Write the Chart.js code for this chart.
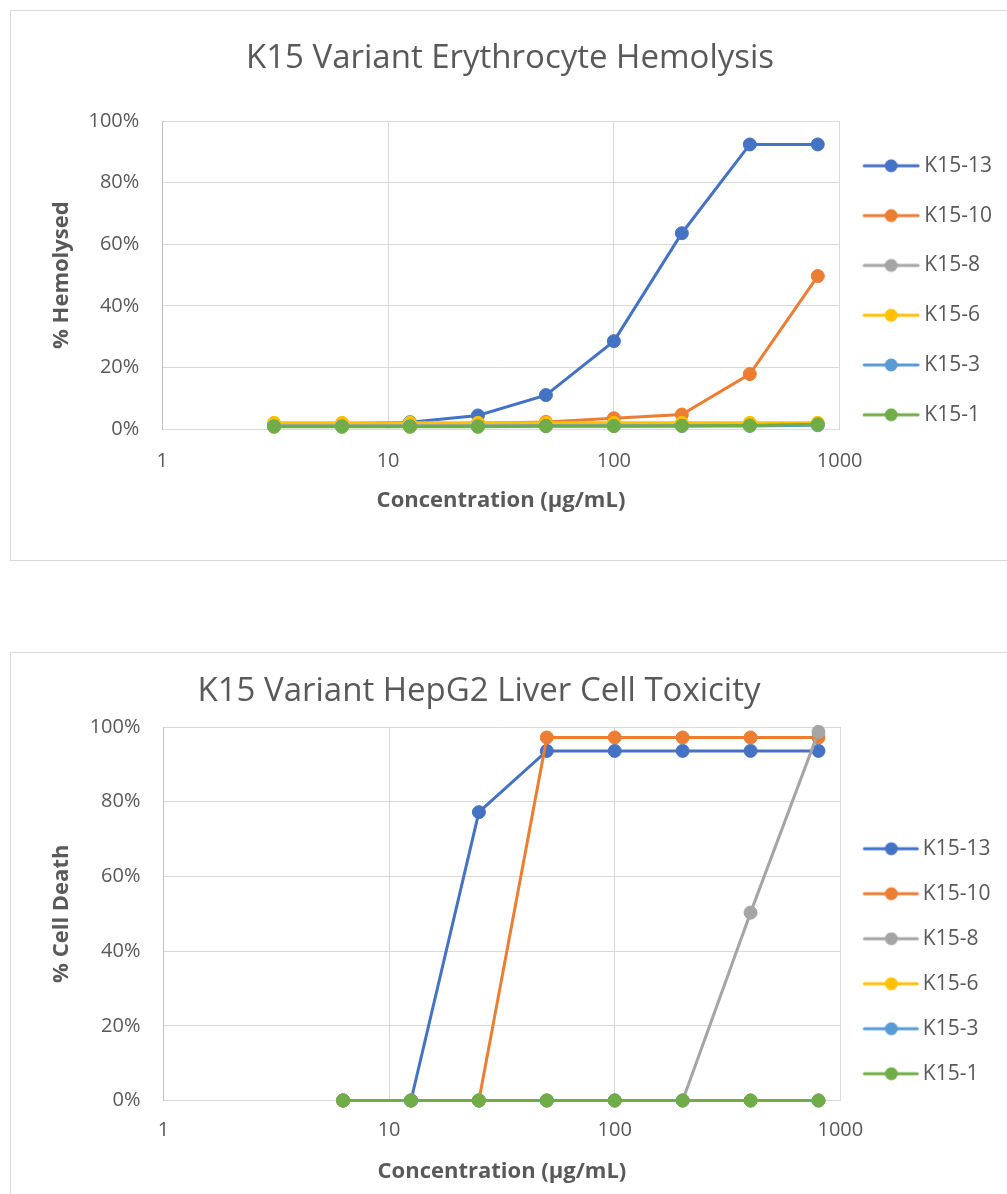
<!DOCTYPE html>
<html>
<head>
<meta charset="utf-8">
<script src="https://cdn.jsdelivr.net/npm/chart.js@4.4.1/dist/chart.umd.min.js"></script>
<style>
  body { margin: 0; background: #fff; overflow: hidden; width: 1007px; height: 1194px; position: relative; }
  .box { position: absolute; left: 10px; width: 1000px; border: 1px solid #d9d9d9; background: #fff; }
  .box canvas { position: absolute; left: 0; top: 0; }
  .title { position: absolute; font-family: 'Open Sans', sans-serif; font-size: 33px; line-height: 33px;
           color: #595959; white-space: nowrap; transform: translateX(-50%); }
</style>
</head>
<body>
<div class="box" id="box1" style="top:10px;height:549px;"><canvas id="hemo-chart" width="996" height="549"></canvas></div>
<div class="box" id="box2" style="top:652px;height:560px;"><canvas id="hepg2-chart" width="996" height="541"></canvas></div>
<div class="title" style="left:510px;top:39px;">K15 Variant Erythrocyte Hemolysis</div>
<div class="title" style="left:479px;top:672px;">K15 Variant HepG2 Liver Cell Toxicity</div>

<script>
// Series names (legend order)
const SERIES = ['K15-13', 'K15-10', 'K15-8', 'K15-6', 'K15-3', 'K15-1'];

// Concentrations (µg/mL)
const hemoConc = [3.125, 6.25, 12.5, 25, 50, 100, 200, 400, 800];
const hepConc = [6.25, 12.5, 25, 50, 100, 200, 400, 800];

// % hemolysed
const hemoK15_13 = [1.5, 1.8, 2.3, 4.5, 11.1, 28.6, 63.6, 92.4, 92.4];
const hemoK15_10 = [1.5, 1.5, 1.7, 2.0, 2.4, 3.6, 4.8, 17.9, 49.7];
const hemoK15_8 = [1.4, 1.4, 1.4, 1.4, 1.5, 1.5, 1.5, 1.5, 1.6];
const hemoK15_6 = [2.1, 2.1, 2.1, 2.1, 2.1, 2.1, 2.1, 2.1, 2.1];
const hemoK15_3 = [1.0, 1.0, 1.0, 1.0, 1.1, 1.1, 1.1, 1.1, 1.3];
const hemoK15_1 = [0.8, 0.8, 0.8, 0.8, 1.0, 1.0, 1.1, 1.2, 1.6];

// % cell death
const cellK15_13 = [0, 0, 77.2, 93.6, 93.6, 93.6, 93.6, 93.6];
const cellK15_10 = [0, 0, 0, 97.2, 97.2, 97.2, 97.2, 97.2];
const cellK15_8 = [0, 0, 0, 0, 0, 0, 50.3, 98.7];
const cellK15_6 = [0, 0, 0, 0, 0, 0, 0, 0];
const cellK15_3 = [0, 0, 0, 0, 0, 0, 0, 0];
const cellK15_1 = [0, 0, 0, 0, 0, 0, 0, 0];

// Axis ticks
const xTicks = [1, 10, 100, 1000];
const yTicks = [0, 20, 40, 60, 80, 100];

const COLORS = ['#4472C4', '#ED7D31', '#A5A5A5', '#FFC000', '#5B9BD5', '#70AD47'];
const FONT = "'Open Sans', sans-serif";
const TEXT = '#595959';
const GRID = '#d9d9d9';

// Legend marker: line with a dot, drawn on a small canvas
function makeMarker(color, lineFrom, lineTo, dotX) {
    const c = document.createElement('canvas');
    c.width = 70;
    c.height = 16;
    const ctx = c.getContext('2d');
    const mid = 35;
    ctx.strokeStyle = color;
    ctx.lineWidth = 3;
    ctx.lineCap = 'round';
    ctx.beginPath();
    ctx.moveTo(mid + lineFrom, 8);
    ctx.lineTo(mid + lineTo, 8);
    ctx.stroke();
    ctx.fillStyle = color;
    ctx.beginPath();
    ctx.arc(mid + dotX, 8, 6.5, 0, Math.PI * 2);
    ctx.fill();
    return c;
}

function buildDatasets(conc, seriesValues) {
    return seriesValues.map((vals, i) => ({
        label: SERIES[i],
        data: conc.map((c, j) => ({ x: c, y: vals[j] })),
        borderColor: COLORS[i],
        backgroundColor: COLORS[i],
        pointBackgroundColor: COLORS[i],
        pointBorderColor: COLORS[i],
        borderWidth: 3,
        pointRadius: 6.5,
        pointBorderWidth: 1,
        tension: 0,
        clip: false,
        order: SERIES.length - i   // last series drawn on top, like Excel
    }));
}

function makeChart(canvasId, conc, seriesValues, opts) {
    const markers = COLORS.map(c => makeMarker(c, opts.marker[0], opts.marker[1], opts.marker[2]));
    const ctx = document.getElementById(canvasId).getContext('2d');
    return new Chart(ctx, {
        type: 'line',
        data: { datasets: buildDatasets(conc, seriesValues) },
        options: {
            responsive: false,
            animation: false,
            devicePixelRatio: 1,
            layout: { padding: { left: 30, top: opts.top, right: opts.right, bottom: opts.bottom } },
            plugins: {
                tooltip: { enabled: false },
                legend: {
                    display: true,
                    position: 'right',
                    align: 'start',
                    fullSize: true,
                    title: { display: true, text: ' ', font: { size: 1 }, padding: { top: opts.legendOffset, bottom: 0 } },
                    labels: {
                        usePointStyle: true,
                        pointStyleWidth: opts.boxWidth,
                        padding: opts.legendPad,
                        color: TEXT,
                        font: { family: FONT, size: 21 },
                        sort: (a, b) => a.datasetIndex - b.datasetIndex,
                        generateLabels: (chart) => {
                            const items = Chart.defaults.plugins.legend.labels.generateLabels(chart);
                            items.forEach(item => { item.pointStyle = markers[item.datasetIndex]; });
                            return items;
                        }
                    }
                }
            },
            scales: {
                x: {
                    type: 'logarithmic',
                    min: 1,
                    max: 1000,
                    afterBuildTicks: (s) => { s.ticks = xTicks.map(v => ({ value: v })); },
                    afterFit: (s) => { s.height = opts.xHeight; },
                    ticks: {
                        autoSkip: false,
                        maxRotation: 0,
                        padding: opts.xTickPad,
                        color: TEXT,
                        font: { family: FONT, size: 20 },
                        callback: (v) => String(v)
                    },
                    grid: { color: GRID, lineWidth: 1, drawTicks: false },
                    border: { color: GRID, width: 1 },
                    title: {
                        display: true,
                        text: 'Concentration (μg/mL)',
                        color: TEXT,
                        font: { family: FONT, size: 22, weight: 'bold' },
                        padding: { top: 0, bottom: 0 }
                    }
                },
                y: {
                    min: 0,
                    max: 100,
                    afterBuildTicks: (s) => { s.ticks = yTicks.map(v => ({ value: v })); },
                    afterFit: (s) => { s.width = opts.yWidth; },
                    ticks: {
                        padding: 23,
                        color: TEXT,
                        font: { family: FONT, size: 20 },
                        callback: (v) => v + '%'
                    },
                    grid: { color: GRID, lineWidth: 1, drawTicks: false },
                    border: { color: '#bfbfbf', width: 1 },
                    title: {
                        display: true,
                        text: opts.yTitle,
                        color: TEXT,
                        font: { family: FONT, size: 22, weight: 'bold' },
                        padding: { top: 8, bottom: 0 }
                    }
                }
            }
        }
    });
}

function drawAll() {
    makeChart('hemo-chart', hemoConc,
        [hemoK15_13, hemoK15_10, hemoK15_8, hemoK15_6, hemoK15_3, hemoK15_1],
        {
            yTitle: '% Hemolysed',
            top: 110, bottom: 46.5, right: 5,
            xHeight: 84.2, yWidth: 121.3, xTickPad: 20,
            legendPad: 28.8, legendOffset: 4.3, boxWidth: 45.4,
            marker: [-27, 27, 0]
        });

    makeChart('hepg2-chart', hepConc,
        [cellK15_13, cellK15_10, cellK15_8, cellK15_6, cellK15_3, cellK15_1],
        {
            yTitle: '% Cell Death',
            top: 74, bottom: 9, right: 6.5,
            xHeight: 84.5, yWidth: 122.5, xTickPad: 18,
            legendPad: 24, legendOffset: 86, boxWidth: 48,
            marker: [-24, 29, 3]
        });
}

document.fonts.load("20px 'Open Sans'").then(drawAll, drawAll);
</script>
</body>
</html>
